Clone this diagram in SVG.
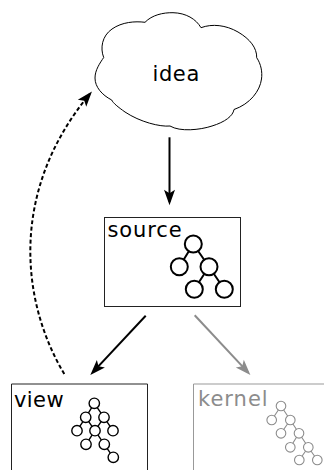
<svg xmlns="http://www.w3.org/2000/svg" width="324" height="470" viewBox="0 0 324 470">
<style>
text{font-family:"DejaVu Sans",sans-serif;font-size:21px}
.box{fill:none;stroke:#222;stroke-width:1}
.cl{fill:none;stroke:#000;stroke-width:1}
.t1 circle{fill:#fff;stroke:#000;stroke-width:2}
.t1 path{fill:none;stroke:#000;stroke-width:2}
.t2 circle{fill:#fff;stroke:#000;stroke-width:1.4}
.t2 path{fill:none;stroke:#000;stroke-width:1.4}
.t3 circle{fill:#fff;stroke:#8c8c8c;stroke-width:1.1}
.t3 path{fill:none;stroke:#8c8c8c;stroke-width:1.1}
.a{fill:none;stroke:#000;stroke-width:2}
</style>
<defs>
<marker id="hb" markerUnits="userSpaceOnUse" markerWidth="18" markerHeight="14" viewBox="0 0 18 14" refX="13" refY="7" orient="auto"><path d="M16.500 7L1 1.500L4.500 7L1 12.500Z" fill="#000"/></marker>
<marker id="hg" markerUnits="userSpaceOnUse" markerWidth="18" markerHeight="14" viewBox="0 0 18 14" refX="13" refY="7" orient="auto"><path d="M16.500 7L1 1.500L4.500 7L1 12.500Z" fill="#8c8c8c"/></marker>
</defs>
<g id="connectors">
<path class="a" d="M169.500 137.300V201.700" marker-end="url(#hb)"/>
<path class="a" d="M145.700 315.700L92.700 372.400" marker-end="url(#hb)"/>
<path class="a" style="stroke:#8c8c8c" d="M194.700 315.300L248 372.400" marker-end="url(#hg)"/>
<path class="a" stroke-dasharray="4 2.500" d="M64.300 374C20 300 10 190 89.700 94.100" marker-end="url(#hb)"/>
</g>
<g id="idea">
<path class="cl" d="M103.700 57.500C100 48 102 36 112 29C122 22 135 21 145 22.300C152 15 163 12.500 173 12.700C186 13 196 19 201 27.700C212 23.500 226 25 238 32C250 39 257 48 256.700 57.700C261 64 262.500 72 261.500 79C260 91 250 104 234 109.500C233 116 225 122 212 126C200 130 180 132 170 126C160 127 140 122 125 112C118 107 113 103 111.700 100C102 95 95 87 95 78C95 70 100 63 103.700 57.500Z"/>
<text x="152.500" y="81" style="letter-spacing:.6px">idea</text>
</g>
<g id="source">
<rect class="box" x="104.500" y="217.500" width="136" height="89"/>
<text x="107.500" y="236.700" style="letter-spacing:.9px">source</text>
<g class="t1">
<path d="M193.300 244L179.300 266.700M193.300 244L209 266.700M209 266.700L194.300 289.300M209 266.700L224.300 289.300"/>
<circle cx="193.300" cy="244" r="8.500"/><circle cx="179.300" cy="266.700" r="8.500"/><circle cx="209" cy="266.700" r="8.500"/><circle cx="194.300" cy="289.300" r="8.500"/><circle cx="224.300" cy="289.300" r="8.500"/>
</g>
</g>
<g id="view">
<path class="box" d="M11.500 470V384H147.500V470"/>
<text x="14" y="406.700" style="letter-spacing:.4px">view</text>
<g class="t2">
<path d="M94.300 403.300L85.700 417.300M94.300 403.300L104 417.300M85.700 417.300L77 430.700M85.700 417.300L95 430.700M104 417.300L95 430.700M104 417.300L113 430.700M95 430.700L86 444.300M95 430.700L104.300 444.300M104.300 444.300L113.300 457.300"/>
<circle cx="94.300" cy="403.300" r="5.200"/><circle cx="85.700" cy="417.300" r="5.200"/><circle cx="104" cy="417.300" r="5.200"/><circle cx="77" cy="430.700" r="5.200"/><circle cx="95" cy="430.700" r="5.200"/><circle cx="113" cy="430.700" r="5.200"/><circle cx="86" cy="444.300" r="5.200"/><circle cx="104.300" cy="444.300" r="5.200"/><circle cx="113.300" cy="457.300" r="5.200"/>
</g>
</g>
<g id="kernel">
<path class="box" style="stroke:#999" d="M193.500 470V384H324"/>
<text x="198" y="405.700" style="fill:#8c8c8c;letter-spacing:1px">kernel</text>
<g class="t3">
<path d="M281 406L271.700 420M281 406L290.300 420M290.300 420L281 433.300M290.300 420L299 433.300M299 433.300L290.300 447.300M299 433.300L308.300 447.300M308.300 447.300L299.300 460M308.300 447.300L317.300 460"/>
<circle cx="281" cy="406" r="4.800"/><circle cx="271.700" cy="420" r="4.800"/><circle cx="290.300" cy="420" r="4.800"/><circle cx="281" cy="433.300" r="4.800"/><circle cx="299" cy="433.300" r="4.800"/><circle cx="290.300" cy="447.300" r="4.800"/><circle cx="308.300" cy="447.300" r="4.800"/><circle cx="299.300" cy="460" r="4.800"/><circle cx="317.300" cy="460" r="4.800"/>
</g>
</g>
</svg>
